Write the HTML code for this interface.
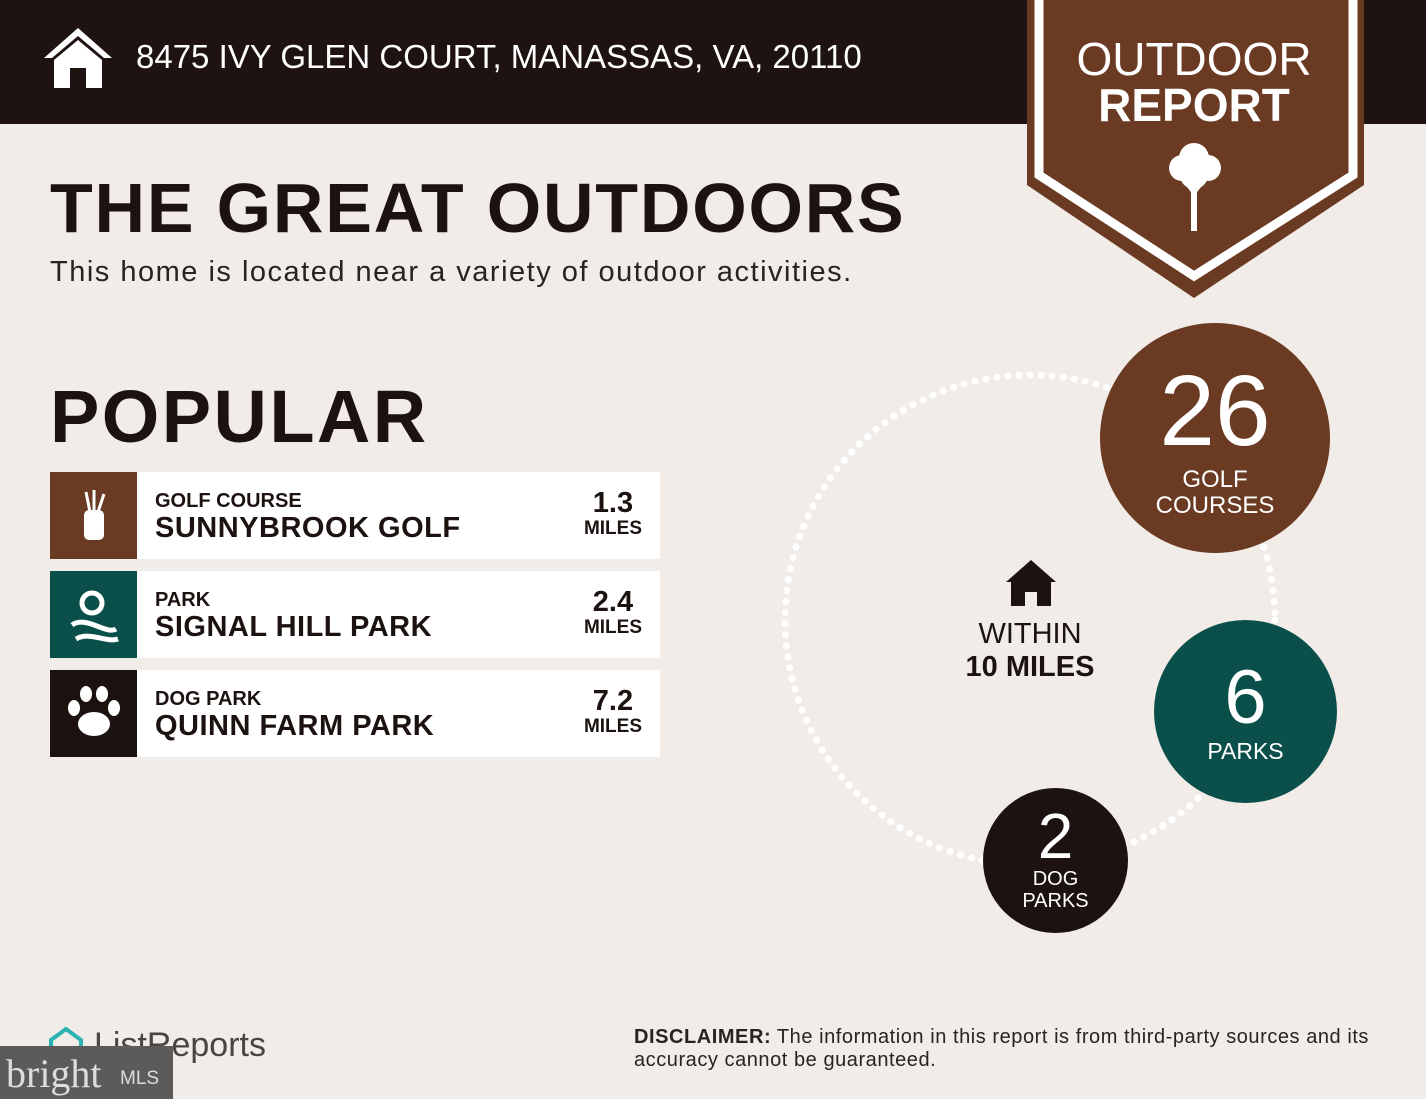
<!DOCTYPE html><html><head><meta charset="utf-8"><style>
body{margin:0;width:1426px;height:1099px;background:#f1ece8;font-family:"Liberation Sans",sans-serif;position:relative;overflow:hidden;color:#1c1311}
.hdr{position:absolute;left:0;top:0;width:1426px;height:124px;background:#1e1311}
.a{position:absolute;}
.row{position:absolute;left:50px;width:610px;height:87px;background:#fff}
.ic{position:absolute;left:0;top:0;width:87px;height:87px}
.cat{position:absolute;left:105px;top:18px;font-size:20px;font-weight:bold}
.nm{position:absolute;left:105px;top:40px;font-size:29px;font-weight:bold;letter-spacing:0.5px}
.mi{position:absolute;right:18px;top:16px;text-align:center;font-weight:bold;font-size:29px;line-height:30px}
.mi span{display:block;font-size:19px;line-height:22px}
.c{position:absolute;border-radius:50%;color:#fff;text-align:center}
</style></head><body>
<div class="hdr"></div>
<svg class="a" style="left:42px;top:26px" width="72" height="64" viewBox="0 0 72 64"><path d="M36 2 L2 32 L10 32 L36 10 L62 32 L70 32 Z" fill="#fff"/><path d="M12 34 L36 14 L60 34 L60 62 L44 62 L44 42 L28 42 L28 62 L12 62 Z" fill="#fff"/></svg>
<div class="a" style="left:136px;top:38px;font-size:33px;color:#fff">8475 IVY GLEN COURT, MANASSAS, VA, 20110</div>
<svg class="a" style="left:1027px;top:0" width="338" height="300"><polygon points="0,0 337,0 337,185 167,298 0,185" fill="#6b3a22"/><polyline points="12,0 12,175 167,276 326,175 326,0" fill="none" stroke="#fff" stroke-width="9"/>
<g fill="#fff"><circle cx="167" cy="158" r="15"/><circle cx="155" cy="168" r="13"/><circle cx="181" cy="168" r="13"/><circle cx="167" cy="175" r="14"/><rect x="164" y="175" width="6" height="56"/><polygon points="167,196 156,182 159,180 167,190 175,180 178,182"/></g></svg>
<div class="a" style="left:1027px;top:36px;width:334px;text-align:center;color:#fff;font-size:46px;line-height:46px">OUTDOOR<br><b>REPORT</b></div>
<div class="a" style="left:50px;top:168px;font-size:70px;font-weight:bold;letter-spacing:1.8px">THE GREAT OUTDOORS</div>
<div class="a" style="left:50px;top:256px;font-size:29px;color:#2a2220;letter-spacing:1.5px">This home is located near a variety of outdoor activities.</div>
<div class="a" style="left:50px;top:374px;font-size:74px;font-weight:bold;letter-spacing:2.4px">POPULAR</div>
<div class="row" style="top:472px"><div class="ic" style="background:#6b3a22"></div><svg class="a" style="left:28px;top:16px" width="32" height="54"><rect x="6" y="22" width="20" height="30" rx="5" fill="#fff"/><path d="M8 4 L12 24 M16 2 L16 24 M26 6 L20 24" stroke="#fff" stroke-width="3"/></svg><div class="cat">GOLF COURSE</div><div class="nm">SUNNYBROOK GOLF</div><div class="mi">1.3<span>MILES</span></div></div>
<div class="row" style="top:571px"><div class="ic" style="background:#0b4f4a"></div><svg class="a" style="left:16px;top:14px" width="56" height="60"><g fill="none" stroke="#fff" stroke-width="5"><circle cx="26" cy="18" r="10"/><path d="M6 40 C20 30 40 50 50 44 M10 54 C24 46 40 58 52 54"/></g></svg><div class="cat">PARK</div><div class="nm">SIGNAL HILL PARK</div><div class="mi">2.4<span>MILES</span></div></div>
<div class="row" style="top:670px"><div class="ic" style="background:#1c1311"></div><svg class="a" style="left:16px;top:14px" width="56" height="56" fill="#fff"><ellipse cx="8" cy="24" rx="6" ry="8"/><ellipse cx="20" cy="10" rx="6" ry="8"/><ellipse cx="36" cy="10" rx="6" ry="8"/><ellipse cx="48" cy="24" rx="6" ry="8"/><ellipse cx="28" cy="40" rx="16" ry="12"/></svg><div class="cat">DOG PARK</div><div class="nm">QUINN FARM PARK</div><div class="mi">7.2<span>MILES</span></div></div>
<svg class="a" style="left:0;top:0" width="1426" height="1099"><circle cx="1030" cy="620" r="245" fill="none" stroke="#fff" stroke-width="7" stroke-dasharray="0.1 11" stroke-linecap="round"/>
<path d="M1031 560 L1006 582 L1011 582 L1011 606 L1025 606 L1025 592 L1037 592 L1037 606 L1051 606 L1051 582 L1056 582 Z" fill="#1c1311"/></svg>
<div class="a" style="left:930px;top:618px;width:200px;text-align:center;font-size:29px;line-height:33px">WITHIN<br><b>10 MILES</b></div>
<div class="c" style="left:1100px;top:323px;width:230px;height:230px;background:#6b3a22"><div style="font-size:100px;line-height:100px;margin-top:38px">26</div><div style="font-size:24px;line-height:26px;margin-top:6px">GOLF<br>COURSES</div></div>
<div class="c" style="left:1154px;top:620px;width:183px;height:183px;background:#0b4f4a"><div style="font-size:76px;line-height:76px;margin-top:40px">6</div><div style="font-size:23px;margin-top:2px">PARKS</div></div>
<div class="c" style="left:983px;top:788px;width:145px;height:145px;background:#1c1311"><div style="font-size:64px;line-height:64px;margin-top:16px">2</div><div style="font-size:20px;line-height:22px">DOG<br>PARKS</div></div>
<div class="a" style="left:634px;top:1026px;font-size:20px;line-height:23px;color:#2a2220;letter-spacing:0.55px"><b>DISCLAIMER:</b> The information in this report is from third-party sources and its<br>accuracy cannot be guaranteed.</div>
<svg class="a" style="left:48px;top:1026px" width="36" height="30"><path d="M3 14 L18 3 L33 14 L33 28 L3 28 Z" fill="none" stroke="#2bb3b1" stroke-width="4"/></svg>
<div class="a" style="left:94px;top:1026px;font-size:34px;color:#4a4442">ListReports</div>
<div class="a" style="left:0;top:1046px;width:173px;height:53px;background:#5d5b59"></div>
<div class="a" style="left:6px;top:1050px;font-family:'Liberation Serif',serif;font-size:40px;color:#ddd">bright</div>
<div class="a" style="left:120px;top:1068px;font-size:19px;color:#ddd">MLS</div>
</body></html>
